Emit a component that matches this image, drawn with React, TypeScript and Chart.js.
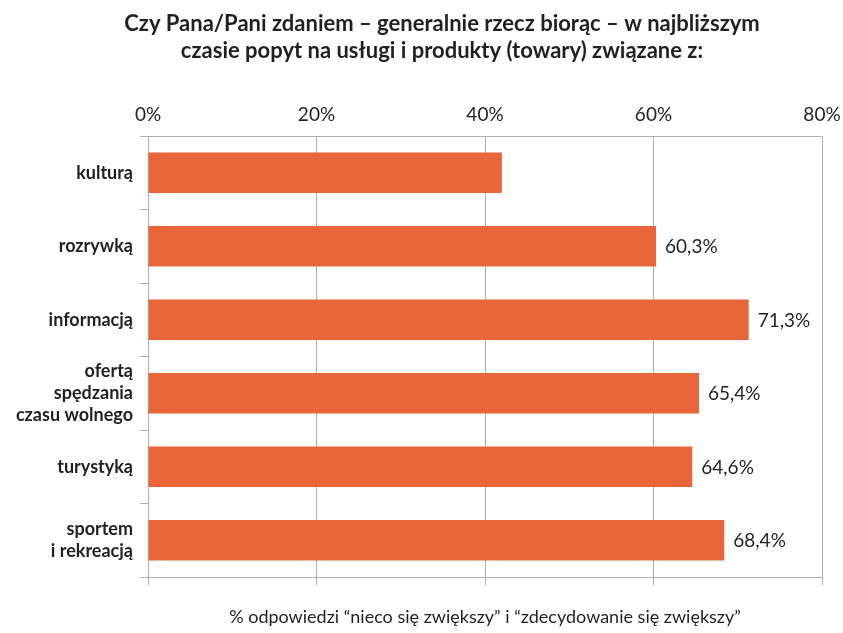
import React, { useEffect, useRef } from "react";
import { Chart, registerables } from "chart.js";

Chart.register(...registerables);

const titleLines = [
  "Czy Pana/Pani zdaniem – generalnie rzecz biorąc – w najbliższym",
  "czasie popyt na usługi i produkty (towary) związane z:",
];
const categories: (string | string[])[] = [
  "kulturą",
  "rozrywką",
  "informacją",
  ["ofertą", "spędzania", "czasu wolnego"],
  "turystyką",
  ["sportem", "i rekreacją"],
];
const values = [42.0, 60.3, 71.3, 65.4, 64.6, 68.4];
const valueLabels: (string | null)[] = [null, "60,3%", "71,3%", "65,4%", "64,6%", "68,4%"];
const xTicks = [0, 20, 40, 60, 80];
const axisTitle = "% odpowiedzi “nieco się zwiększy” i “zdecydowanie się zwiększy”";

const BAR = "#E9663A";
const GRID = "#aeaeae";
const TEXT = "#231f20";
const FONT = "Lato";

const valueLabelPlugin = {
  id: "valueLabels",
  afterDatasetsDraw(chart: any) {
    const ctx = chart.ctx;
    const meta = chart.getDatasetMeta(0);
    ctx.save();
    ctx.font = `19px ${FONT}`;
    ctx.fillStyle = TEXT;
    ctx.textAlign = "left";
    ctx.textBaseline = "middle";
    meta.data.forEach((el: any, i: number) => {
      const t = valueLabels[i];
      if (t) ctx.fillText(t, el.x + 9, el.y + 1);
    });
    ctx.restore();
  },
};

const titlePlugin = {
  id: "customTitle",
  afterDraw(chart: any) {
    const ctx = chart.ctx;
    ctx.save();
    ctx.font = `bold 22px ${FONT}`;
    ctx.fillStyle = TEXT;
    ctx.textAlign = "center";
    ctx.textBaseline = "middle";
    titleLines.forEach((line, i) => {
      ctx.fillText(line, 442, 24 + i * 27);
    });
    ctx.restore();
  },
};

export default function App() {
  const ref = useRef<HTMLCanvasElement>(null);
  useEffect(() => {
    document.body.style.margin = "0";
    const chart = new Chart(ref.current!, {
      type: "bar",
      data: {
        labels: categories as any,
        datasets: [
          {
            data: values,
            backgroundColor: BAR,
            borderWidth: 0,
            barPercentage: 0.55,
            categoryPercentage: 1,
            xAxisID: "x",
          },
        ],
      },
      options: {
        indexAxis: "y",
        animation: false,
        responsive: false,
        layout: { padding: { left: 0, right: 21, top: 65, bottom: 0 } },
        plugins: {
          legend: { display: false },
          tooltip: { enabled: false },
          title: { display: false },
        },
        scales: {
          x: {
            type: "linear",
            position: "top",
            min: 0,
            max: 80,
            afterBuildTicks: (s: any) => {
              s.ticks = xTicks.map((v) => ({ value: v }));
            },
            ticks: {
              callback: (v: any) => `${v}%`,
              color: TEXT,
              font: { family: FONT, size: 19 },
              padding: 10,
            },
            grid: { color: GRID, lineWidth: 1, drawTicks: false },
            border: { display: true, color: GRID, width: 1 },
            afterFit: (s: any) => {
              s.height = 71;
              s.paddingLeft = 0;
              s.paddingRight = 0;
            },
          },
          x2: {
            type: "linear",
            position: "bottom",
            min: 0,
            max: 80,
            afterBuildTicks: (s: any) => {
              s.ticks = xTicks.map((v) => ({ value: v }));
            },
            ticks: { display: false },
            grid: { color: GRID, lineWidth: 1, drawOnChartArea: false, drawTicks: true, tickLength: 8 },
            border: { display: true, color: GRID, width: 1 },
            title: {
              display: true,
              text: axisTitle,
              color: TEXT,
              font: { family: FONT, size: 18 },
              padding: { top: 0, bottom: 5 },
            },
            afterFit: (s: any) => {
              s.height = 56;
              s.paddingLeft = 0;
              s.paddingRight = 0;
            },
          },
          y: {
            type: "category",
            position: "left",
            ticks: {
              color: TEXT,
              font: { family: FONT, size: 18, weight: "bold", lineHeight: 1.2 },
              padding: 7,
            },
            grid: {
              color: GRID,
              lineWidth: 1,
              offset: true,
              drawOnChartArea: false,
              drawTicks: true,
              tickLength: 8,
            },
            border: { display: true, color: GRID, width: 1 },
            afterFit: (s: any) => {
              s.width = 148;
            },
          },
        },
      },
      plugins: [valueLabelPlugin, titlePlugin],
    });
    return () => chart.destroy();
  }, []);
  return <canvas ref={ref} width={843} height={633} style={{ display: "block" }} />;
}
